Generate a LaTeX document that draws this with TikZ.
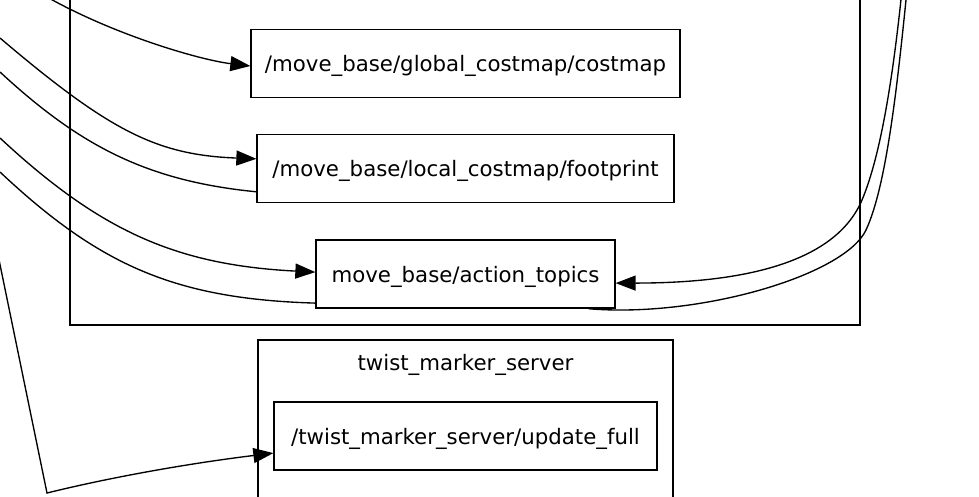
\documentclass[tikz,border=0pt]{standalone}
\usepackage{fontspec}
\setmainfont{DejaVu Sans}
\usetikzlibrary{arrows.meta,positioning,calc}
\tikzset{
  topic/.style={rectangle, draw=black, line width=1.3pt, align=center,
    minimum height=68pt, inner xsep=12pt, text height=17pt, text depth=1pt,
    font=\fontsize{21.3pt}{25pt}\selectfont},
  cluster/.style={draw=black, line width=1.3pt},
  clabel/.style={text height=17pt, text depth=1pt, font=\fontsize{21.3pt}{25pt}\selectfont},
  tr/.style={-{Triangle[length=20pt,width=15pt]}, draw=black, line width=1.35pt},
  ln/.style={draw=black, line width=1.35pt},
}

\begin{document}
\begin{tikzpicture}[x=1pt, y=-1pt, node distance=36pt]
  \useasboundingbox (0,0) rectangle (979,496);
  \clip (0,0) rectangle (979,496);
  % clusters
  \draw[cluster] (70,-40) rectangle (860,325);
  \draw[cluster] (258,340) rectangle (673,540);
  \node[clabel] (twist) at (465.5,362) {twist\_marker\_server};
  % topics
  \node[topic, minimum width=429pt] (gcost) at (465.5,63.5) {/move\_base/global\_costmap/costmap};
  \node[topic, minimum width=417pt, below=of gcost] (foot) {/move\_base/local\_costmap/footprint};
  \node[topic, minimum width=299pt, below=of foot] (action) {move\_base/action\_topics};
  \node[topic, minimum width=383pt, below=92.7pt of action] (update) {/twist\_marker\_server/update\_full};
  % loose ends, outside the frame
  \coordinate (in1) at (40,-7);
  \coordinate (in2) at (0,38);
  \coordinate (in3) at (0,72);
  \coordinate (in4) at (0,138);
  \coordinate (in5) at (0,172);
  \coordinate (in6) at (-3,250);
  \coordinate (bend) at (47,493);
  \coordinate (in7) at (903,-20);
  \coordinate (in8) at (908,-20);
  % edges
  \draw[tr] (in1) .. controls (110,34) and (200,60) .. ($(gcost.west)+(0,2.5)$);
  \draw[tr] (in2) .. controls (110,131.5) and (157,155) .. ($(foot.west)+(0,-10)$);
  \draw[ln] ($(foot.west)+(0,23)$) .. controls (147,181) and (80,146) .. (in3);
  \draw[tr] (in4) .. controls (100,231) and (176,265) .. ($(action.west)+(0,-2)$);
  \draw[ln] ($(action.west)+(0,29)$) .. controls (176,299) and (100,266) .. (in5);
  \draw[tr] (in6) -- (bend) .. controls (120,475) and (200,462) .. ($(update.west)+(0,17)$);
  \draw[tr] (in7) .. controls (895,60) and (883,150) .. (862,200)
    .. controls (832,271) and (720,283) .. ($(action.east)+(0,9)$);
  \draw[ln] ($(action.south east)+(-27,0)$) .. controls (700,318) and (845,275) .. (866,230)
    .. controls (887,185) and (898,80) .. (in8);
\end{tikzpicture}
\end{document}
